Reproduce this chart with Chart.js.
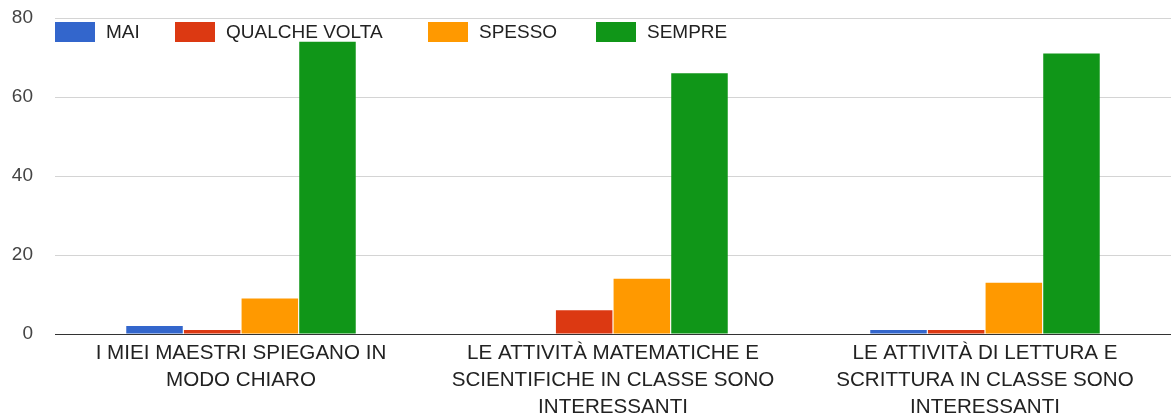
<!DOCTYPE html>
<html>
<head>
<meta charset="utf-8">
<script src="https://cdn.jsdelivr.net/npm/chart.js@4/dist/chart.umd.min.js"></script>
<style>
    html, body { margin: 0; padding: 0; background: #fff; }
    #wrap { width: 1171px; height: 415px; }
</style>
</head>
<body>
<div id="wrap"><canvas id="chart"></canvas></div>
<script>
const categories = [
    ['I MIEI MAESTRI SPIEGANO IN', 'MODO CHIARO'],
    ['LE ATTIVITÀ MATEMATICHE E', 'SCIENTIFICHE IN CLASSE SONO', 'INTERESSANTI'],
    ['LE ATTIVITÀ DI LETTURA E', 'SCRITTURA IN CLASSE SONO', 'INTERESSANTI']
];
const seriesNames = ['MAI', 'QUALCHE VOLTA', 'SPESSO', 'SEMPRE'];
const mai = [2, 0, 1];
const qualcheVolta = [1, 6, 1];
const spesso = [9, 14, 13];
const sempre = [74, 66, 71];
const yTicks = [0, 20, 40, 60, 80];

const colors = ['#3366cc', '#dc3912', '#ff9900', '#109618'];
const FONT = '"Liberation Sans", Arial, sans-serif';

// legend sits on top of the plot like in the original, so draw it by hand
const legendSlots = [55, 175, 428, 596];
const overlayLegend = {
    id: 'overlayLegend',
    afterDraw(chart) {
        const ctx = chart.ctx;
        ctx.save();
        ctx.font = '19px ' + FONT;
        ctx.textBaseline = 'middle';
        chart.data.datasets.forEach((ds, i) => {
            const x = legendSlots[i];
            ctx.fillStyle = ds.backgroundColor;
            ctx.fillRect(x, 22, 40, 20);
            ctx.fillStyle = '#222';
            ctx.fillText(ds.label, x + 51, 33);
        });
        ctx.restore();
    }
};

const ctx = document.getElementById('chart').getContext('2d');
new Chart(ctx, {
    type: 'bar',
    data: {
        labels: categories,
        datasets: [mai, qualcheVolta, spesso, sempre].map((values, i) => ({
            label: seriesNames[i],
            data: values,
            backgroundColor: colors[i],
            borderWidth: 0,
            categoryPercentage: 0.62,
            barPercentage: 0.98
        }))
    },
    options: {
        responsive: true,
        maintainAspectRatio: false,
        animation: false,
        layout: { padding: { top: 18, right: 0, left: 0, bottom: 0 } },
        plugins: {
            legend: { display: false },
            tooltip: { enabled: false }
        },
        scales: {
            x: {
                grid: { display: false },
                border: { display: false },
                ticks: {
                    color: '#222',
                    font: { family: FONT, size: 20.6, lineHeight: 1.3 },
                    padding: -2,
                    maxRotation: 0,
                    autoSkip: false
                },
                afterFit(scale) {
                    scale.height = 81;
                    scale.paddingTop = 0;
                    scale.paddingBottom = 0;
                }
            },
            y: {
                min: 0,
                max: 80,
                afterBuildTicks(scale) {
                    scale.ticks = yTicks.map(v => ({ value: v }));
                },
                grid: {
                    drawTicks: false,
                    color: c => c.tick && c.tick.value === 0 ? '#333' : '#d4d4d4',
                    lineWidth: 1
                },
                border: { display: false },
                ticks: {
                    color: '#444',
                    font: { family: FONT, size: 19 },
                    padding: 22
                },
                afterFit(scale) {
                    scale.width = 55;
                    scale.paddingTop = 0;
                    scale.paddingBottom = 0;
                }
            }
        }
    },
    plugins: [overlayLegend]
});
</script>
</body>
</html>
